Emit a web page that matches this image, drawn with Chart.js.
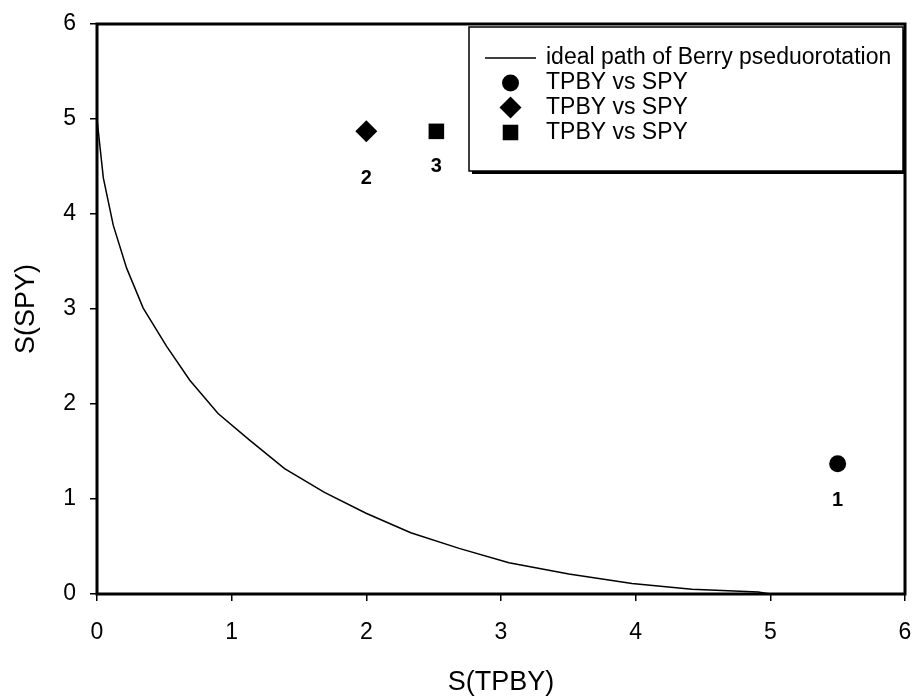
<!DOCTYPE html>
<html>
<head>
<meta charset="utf-8">
<script src="https://cdn.jsdelivr.net/npm/chart.js@4.4.0/dist/chart.umd.min.js"></script>
<style>
    html, body { margin: 0; padding: 0; background: #fff; }
</style>
</head>
<body>
<canvas id="graficoBerry" width="916" height="697"></canvas>
<script>
// trayectoria ideal (pseudorrotación de Berry)
const caminoX = [0.00, 0.047, 0.121, 0.22, 0.343, 0.516, 0.689, 0.899, 1.133, 1.393, 1.689, 1.998, 2.33, 2.689, 3.059, 3.504, 3.973, 4.417, 4.91, 5.00];
const caminoY = [5.00, 4.38, 3.88, 3.43, 3.01, 2.61, 2.25, 1.90, 1.62, 1.32, 1.07, 0.85, 0.645, 0.48, 0.33, 0.21, 0.11, 0.05, 0.02, 0.00];

// compuestos medidos
const puntosX = [5.50, 2.00, 2.52];
const puntosY = [1.37, 4.87, 4.87];
const etiquetasPuntos = ['1', '2', '3'];

const nombresSeries = ['ideal path of Berry pseduorotation', 'TPBY vs SPY', 'TPBY vs SPY', 'TPBY vs SPY'];
const ticksX = [0, 1, 2, 3, 4, 5, 6];
const ticksY = [0, 1, 2, 3, 4, 5, 6];

const fuente = 'Arial, "Liberation Sans", sans-serif';

const estilos = [
    { pointStyle: 'circle', radius: 8.5 },
    { pointStyle: 'rectRot', radius: 11 },
    { pointStyle: 'rect', radius: 11 }
];

const datasets = [{
    label: nombresSeries[0],
    data: caminoX.map((x, i) => ({ x: x, y: caminoY[i] })),
    showLine: true,
    borderColor: '#000',
    borderWidth: 1.5,
    pointRadius: 0,
    tension: 0
}];
for (let i = 0; i < puntosX.length; i++) {
    datasets.push({
        label: nombresSeries[i + 1],
        data: [{ x: puntosX[i], y: puntosY[i] }],
        pointStyle: estilos[i].pointStyle,
        pointRadius: estilos[i].radius,
        backgroundColor: '#000',
        borderColor: '#000',
        borderWidth: 0
    });
}

// marco negro alrededor del área del gráfico
const marco = {
    id: 'marco',
    afterDraw(chart) {
        const { ctx, chartArea: a } = chart;
        ctx.save();
        ctx.strokeStyle = '#000';
        ctx.lineWidth = 3;
        ctx.strokeRect(a.left, a.top, a.right - a.left, a.bottom - a.top);
        ctx.restore();
    }
};

// números bajo cada punto
const etiquetas = {
    id: 'etiquetas',
    afterDatasetsDraw(chart) {
        const { ctx, scales } = chart;
        const desplazamientos = [37, 47, 35];
        ctx.save();
        ctx.fillStyle = '#000';
        ctx.font = 'bold 20px ' + fuente;
        ctx.textAlign = 'center';
        ctx.textBaseline = 'middle';
        for (let i = 0; i < etiquetasPuntos.length; i++) {
            const px = scales.x.getPixelForValue(puntosX[i]);
            const py = scales.y.getPixelForValue(puntosY[i]);
            ctx.fillText(etiquetasPuntos[i], px, py + desplazamientos[i]);
        }
        ctx.restore();
    }
};

// leyenda dentro del área, arriba a la derecha
const leyenda = {
    id: 'leyenda',
    afterDraw(chart) {
        const { ctx, chartArea: a } = chart;
        const ancho = 434, alto = 144;
        const x0 = a.right - 2 - ancho;
        const y0 = a.top + 3;
        ctx.save();
        ctx.fillStyle = '#000';
        ctx.fillRect(x0 + 3, y0 + 3, ancho, alto);
        ctx.fillStyle = '#fff';
        ctx.fillRect(x0, y0, ancho, alto);
        ctx.strokeStyle = '#000';
        ctx.lineWidth = 1.5;
        ctx.strokeRect(x0, y0, ancho, alto);

        const filas = [31, 56, 80.5, 105.5];
        const xMuestra = x0 + 16, largo = 51;
        ctx.font = '23px ' + fuente;
        ctx.textBaseline = 'middle';
        ctx.textAlign = 'left';
        chart.data.datasets.forEach((ds, i) => {
            const y = y0 + filas[i];
            if (ds.showLine) {
                ctx.beginPath();
                ctx.moveTo(xMuestra, y);
                ctx.lineTo(xMuestra + largo, y);
                ctx.strokeStyle = '#000';
                ctx.lineWidth = 1.5;
                ctx.stroke();
            } else {
                ctx.fillStyle = '#000';
                ctx.strokeStyle = '#000';
                ctx.lineWidth = 0;
                Chart.helpers.drawPoint(ctx, { pointStyle: ds.pointStyle, radius: ds.pointRadius, rotation: 0, borderWidth: 0 }, xMuestra + largo / 2, y);
            }
            ctx.fillStyle = '#000';
            ctx.fillText(ds.label, xMuestra + largo + 10, y);
        });
        ctx.restore();
    }
};

new Chart(document.getElementById('graficoBerry').getContext('2d'), {
    type: 'scatter',
    data: { datasets: datasets },
    plugins: [etiquetas, marco, leyenda],
    options: {
        responsive: false,
        devicePixelRatio: 1,
        animation: false,
        layout: { padding: { top: 24, right: 9, left: 0, bottom: 0 } },
        plugins: {
            legend: { display: false },
            tooltip: { enabled: false }
        },
        scales: {
            x: {
                type: 'linear',
                min: 0,
                max: 6,
                afterBuildTicks(s) { s.ticks = ticksX.map(v => ({ value: v })); },
                afterFit(s) { s.height = 103; s.paddingLeft = 0; s.paddingRight = 0; },
                border: { display: false },
                grid: { display: true, drawOnChartArea: false, drawTicks: true, tickLength: 7, color: '#000', lineWidth: 1.5 },
                ticks: { color: '#000', font: { size: 23, family: fuente }, padding: 18, maxRotation: 0 },
                title: { display: true, text: 'S(TPBY)', color: '#000', font: { size: 27, family: fuente, lineHeight: 1.04 }, padding: { top: 0, bottom: 0 } }
            },
            y: {
                type: 'linear',
                min: 0,
                max: 6,
                afterBuildTicks(s) { s.ticks = ticksY.map(v => ({ value: v })); },
                afterFit(s) { s.width = 97; s.paddingTop = 0; s.paddingBottom = 0; },
                border: { display: false },
                grid: { display: true, drawOnChartArea: false, drawTicks: true, tickLength: 7, color: '#000', lineWidth: 1.5 },
                ticks: { color: '#000', font: { size: 23, family: fuente }, padding: 14 },
                title: { display: true, text: 'S(SPY)', color: '#000', font: { size: 27, family: fuente, lineHeight: 1.04 }, padding: { top: 13, bottom: 0 } }
            }
        }
    }
});
</script>
</body>
</html>
